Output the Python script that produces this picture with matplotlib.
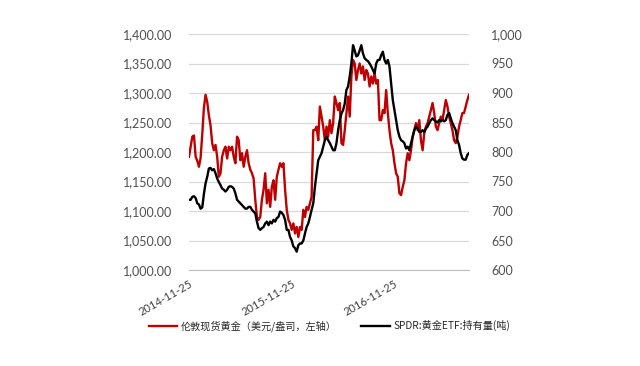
import numpy as np
import pandas as pd
import matplotlib
matplotlib.use("Agg")
import matplotlib.pyplot as plt
import matplotlib.dates as mdates
from matplotlib.ticker import FuncFormatter, MultipleLocator

# 伦敦现货黄金（美元/盎司）, roughly every 6 days from 2014-11-25
gold = [1192, 1209, 1226, 1228, 1192, 1185, 1175, 1190, 1230, 1275,
        1297, 1285, 1262, 1245, 1215, 1203, 1212, 1192, 1158, 1164,
        1192, 1203, 1209, 1189, 1209, 1203, 1209, 1192, 1181, 1226,
        1220, 1186, 1198, 1175, 1192, 1203, 1181, 1170, 1164, 1155,
        1119, 1090, 1085, 1090, 1119, 1136, 1164, 1113, 1136, 1107,
        1141, 1152, 1119, 1158, 1170, 1181, 1175, 1181, 1136,
        1102, 1085, 1079, 1068, 1079, 1062, 1073, 1056, 1073, 1068,
        1102, 1090, 1107, 1102, 1113, 1124, 1237, 1237, 1243, 1220,
        1277, 1260, 1243, 1220, 1243, 1226, 1254, 1232, 1249, 1294,
        1283, 1271, 1283, 1215, 1212, 1237, 1265, 1294, 1260, 1328,
        1356, 1350, 1322, 1339, 1350, 1333, 1345, 1322, 1339, 1333,
        1311, 1328, 1316, 1333, 1316, 1322, 1254,
        1254, 1271, 1266, 1305, 1266, 1237, 1215, 1203, 1181, 1164,
        1158, 1130, 1127, 1141, 1152, 1181, 1198, 1186, 1203, 1226,
        1237, 1249, 1237, 1254, 1220, 1203, 1232, 1243, 1249, 1260,
        1271, 1283, 1266, 1243, 1237, 1249, 1260, 1254, 1271, 1288,
        1277, 1260, 1249, 1237, 1220, 1215, 1226, 1243, 1254, 1266,
        1266, 1277, 1288, 1297]

# SPDR:黄金ETF:持有量(吨)
spdr = [719, 719, 724, 725, 722, 713, 711, 704, 706, 729,
        747, 758, 772, 773, 769, 771, 764, 755, 749, 744,
        738, 736, 733, 736, 741, 742, 741, 738, 730, 719,
        716, 713, 710, 707, 704, 704, 707, 707, 702, 699,
        696, 682, 671, 668, 671, 673, 679, 682, 676, 682,
        679, 685, 682, 688, 690, 699, 697, 693, 685,
        668, 668, 656, 650, 640, 637, 631, 642, 645, 645,
        650, 662, 673, 679, 690, 702, 713, 741, 764, 786,
        792, 798, 809, 820, 826, 820, 815, 809, 803, 803,
        815, 837, 854, 865, 871, 882, 905, 911, 928, 950,
        981, 972, 962, 964, 972, 981, 967, 959, 956, 954,
        950, 945, 939, 933, 950, 956, 956,
        964, 970, 956, 950, 956, 945, 916, 888, 871, 854,
        837, 826, 820, 818, 815, 806, 809, 803, 815, 826,
        837, 843, 840, 834, 834, 837, 834, 840, 843, 849,
        854, 857, 854, 852, 850, 854, 852, 854, 852, 854,
        863, 866, 857, 849, 843, 837, 820, 812, 798, 789,
        787, 787, 795, 798]

dates = pd.date_range("2014-11-25", "2017-08-18", periods=len(gold))
tick_dates = pd.to_datetime(["2014-11-25", "2015-11-25", "2016-11-25"])

label_gold = "伦敦现货黄金（美元/盎司，左轴）"
label_spdr = "SPDR:黄金ETF:持有量(吨)"

plt.rcParams["font.family"] = ["Lato", "Noto Sans CJK SC", "DejaVu Sans"]
txt = "#505050"
grid_c = "#d9d9d9"

fig = plt.figure(figsize=(6.4, 3.66), dpi=100)
ax = fig.add_axes([189 / 640, 1 - 270 / 366, (469 - 189) / 640, (270 - 34) / 366])
ax2 = ax.twinx()

l1, = ax.plot(dates, gold, color="#C00000", lw=1.7, label=label_gold)
l2, = ax2.plot(dates, spdr, color="black", lw=1.7, label=label_spdr)

ax.set_ylim(1000, 1400)
ax2.set_ylim(600, 1000)
ax.yaxis.set_major_locator(MultipleLocator(50))
ax2.yaxis.set_major_locator(MultipleLocator(50))
ax.yaxis.set_major_formatter(FuncFormatter(lambda v, p: f"{v:,.2f}"))
ax2.yaxis.set_major_formatter(FuncFormatter(lambda v, p: f"{v:,.0f}"))
ax.set_xlim(dates[0], dates[-1])

ax.grid(axis="y", color=grid_c, lw=0.9)
ax.set_axisbelow(True)
for a in (ax, ax2):
    for s in a.spines.values():
        s.set_visible(False)
    a.tick_params(length=0, colors=txt, labelsize=9)
ax.spines["bottom"].set_visible(True)
ax.spines["bottom"].set_color("#bfbfbf")
ax.tick_params(axis="y", pad=12)
ax2.tick_params(axis="y", pad=16)

ax.set_xticks(tick_dates)
ax.xaxis.set_major_formatter(mdates.DateFormatter("%Y-%m-%d"))
for lab in ax.get_xticklabels():
    lab.set_rotation(30)
    lab.set_ha("right")
    lab.set_rotation_mode("anchor")
    lab.set_fontsize(8)
    lab.set_color("#404040")
ax.tick_params(axis="x", pad=6)

leg = fig.legend([l1, l2], [label_gold, label_spdr], loc="center",
                 bbox_to_anchor=(0.515, 0.109), ncol=2, frameon=False,
                 handlelength=2.8, handletextpad=0.4, columnspacing=2.4,
                 prop={"family": ["Noto Sans CJK SC", "DejaVu Sans"], "size": 7.3})
for t in leg.get_texts():
    t.set_color("#262626")

fig.savefig("out.png", dpi=100)
